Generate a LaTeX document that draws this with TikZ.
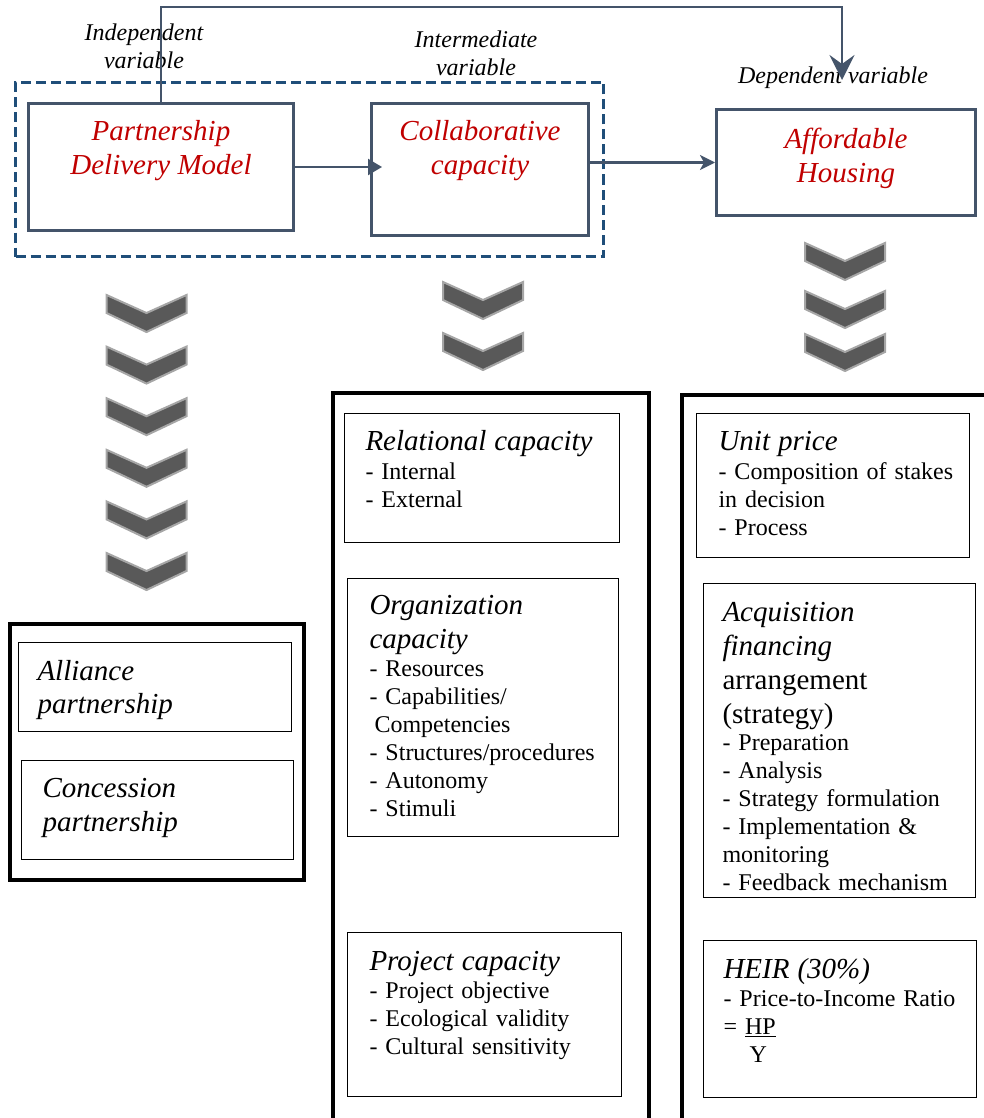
\documentclass[tikz,border=0pt]{standalone}
\usepackage{fontspec}
\setmainfont{Liberation Serif}
\usetikzlibrary{arrows.meta}

\definecolor{framegray}{HTML}{44546A}
\definecolor{dashblue}{HTML}{1F4E79}
\definecolor{titlered}{HTML}{C00000}
\definecolor{chevdark}{HTML}{595959}
\definecolor{chevedge}{HTML}{A6A6A6}

\newcommand{\boxtitle}{\fontsize{29}{34}\selectfont\itshape}
\newcommand{\boxupright}{\fontsize{29}{34}\selectfont}

\tikzset{
  every picture/.style={line width=1pt},
  mainbox/.style={draw=framegray, line width=3pt, anchor=north west, inner sep=0pt},
  dashframe/.style={draw=dashblue, line width=3pt, dash pattern=on 10pt off 5pt, anchor=north west, inner sep=0pt},
  redtitle/.style={text=titlered, font=\fontsize{29}{34}\selectfont\itshape, align=center, anchor=north, inner sep=0pt},
  varlabel/.style={font=\fontsize{24}{28}\selectfont\itshape, align=center, anchor=north, inner sep=0pt},
  itembox/.style={draw=black, line width=1pt, anchor=north west, inner sep=0pt},
  itemtext/.style={anchor=north west, inner sep=0pt, text width=270pt, align=left, font=\fontsize{24}{28}\selectfont},
  outerframe/.style={draw=black, line width=4pt, line join=miter},
  flowarrow/.style={draw=framegray, line width=2.2pt, line join=miter},
  % pics do not take the picture's yscale=-1, so y runs downwards by hand
  chevron/.pic={
    \draw[draw=chevedge, fill=chevdark, line width=2pt, line join=miter]
      (-40,0) -- (0,-18) -- (40,0) -- (40,-18) -- (0,-37) -- (-40,-18) -- cycle;
  }
}

\begin{document}
\begin{tikzpicture}[x=1pt,y=1pt,yscale=-1,xscale=1]
  \useasboundingbox (0,0) rectangle (983,1118);

  % variable boxes
  \node[dashframe, minimum width=588pt, minimum height=174pt] (modelgroup) at (14,81) {};
  \node[mainbox, minimum width=265pt, minimum height=127pt] (pdm) at (27,102) {};
  \node[mainbox, minimum width=217pt, minimum height=132pt] (collab) at (370,102) {};
  \node[mainbox, minimum width=259pt, minimum height=106pt] (afford) at (715,108) {};

  \node[redtitle] (pdmtext) at (161,120) {Partnership\\Delivery Model};
  \node[redtitle] (collabtext) at (480,120) {Collaborative\\capacity};
  \node[redtitle] (affordtext) at (846,128) {Affordable\\Housing};

  % variable labels
  \node[varlabel] (indeplabel) at (144,23) {Independent\\variable};
  \node[varlabel] (interlabel) at (476,30) {Intermediate\\variable};
  \node[varlabel] (deplabel) at (833,66) {Dependent variable};

  % connectors
  \coordinate (fbcorner) at (842,7);
  \coordinate (fbtip) at (842,80);
  \draw[flowarrow, -{Stealth[length=25pt,width=25pt,inset=9pt]}] (pdm.north) |- (fbcorner) -- (fbtip);
  \draw[flowarrow, -{Triangle[length=14pt,width=16pt]}, shorten >=-12pt] (pdm.east) -- (pdm.east -| collab.west);
  \draw[flowarrow, -{Stealth[length=15pt,width=15pt,inset=4pt]}] (collab.east |- afford.west) -- (afford.west);

  % chevrons
  \foreach \i in {0,...,5}
    \pic at (146.5,{295+51.6*\i}) {chevron};
  \foreach \ty in {282,333}
    \pic at (483,\ty) {chevron};
  \foreach \ty in {243,291,334}
    \pic at (845,\ty) {chevron};

  % outer frames
  \draw[outerframe] (10,624) rectangle (304,880);
  \draw[outerframe] (333,1122) -- (333,393) -- (649,393) -- (649,1122);
  \draw[outerframe] (682,1122) -- (682,395) -- (987,395);

  % partnership types
  \node[itembox, minimum width=273pt, minimum height=89pt] (alliance) at (18,642) {};
  \node[itembox, minimum width=272pt, minimum height=99pt] (concession) at (21,760) {};
  \node[itemtext] (alliancetext) at (37,660) {{\boxtitle Alliance}\\[5pt]{\boxtitle partnership}};
  \node[itemtext] (concessiontext) at (42,778) {{\boxtitle Concession}\\[6pt]{\boxtitle partnership}};

  % capacity items
  \node[itembox, minimum width=275pt, minimum height=129pt] (relational) at (344,413) {};
  \node[itembox, minimum width=271pt, minimum height=258pt] (organization) at (347,578) {};
  \node[itembox, minimum width=274pt, minimum height=164pt] (project) at (347,932) {};
  \node[itemtext] (relationaltext) at (365,430)
    {{\boxtitle Relational capacity}\\[1pt]- Internal\\- External};
  \node[itemtext] (organizationtext) at (369,595)
    {{\boxtitle Organization}\\[6pt]{\boxtitle capacity}\\[0pt]- Resources\\- Capabilities/\\\hspace*{5pt}Competencies\\- Structures/procedures\\- Autonomy\\- Stimuli};
  \node[itemtext] (projecttext) at (369,951)
    {{\boxtitle Project capacity}\\[0pt]- Project objective\\- Ecological validity\\- Cultural sensitivity};

  % housing items
  \node[itembox, minimum width=273pt, minimum height=144pt] (unitprice) at (696,413) {};
  \node[itembox, minimum width=272pt, minimum height=314pt] (acquisition) at (703,583) {};
  \node[itembox, minimum width=273pt, minimum height=157pt] (heir) at (703,940) {};
  \node[itemtext] (unitpricetext) at (718,431)
    {{\boxtitle Unit price}\\[1pt]- Composition of stakes\\in decision\\- Process};
  \node[itemtext] (acquisitiontext) at (722,602)
    {{\boxtitle Acquisition}\\[6pt]{\boxtitle financing}\\[6pt]{\boxupright arrangement}\\[6pt]{\boxupright (strategy)}\\[-1pt]- Preparation\\- Analysis\\- Strategy formulation\\- Implementation \&\\monitoring\\- Feedback mechanism};
  \node[itemtext] (heirtext) at (723,958)
    {{\boxtitle HEIR (30\%)}\\- Price-to-Income Ratio\\= \underline{HP}\\\hspace*{26pt}Y};
\end{tikzpicture}
\end{document}
